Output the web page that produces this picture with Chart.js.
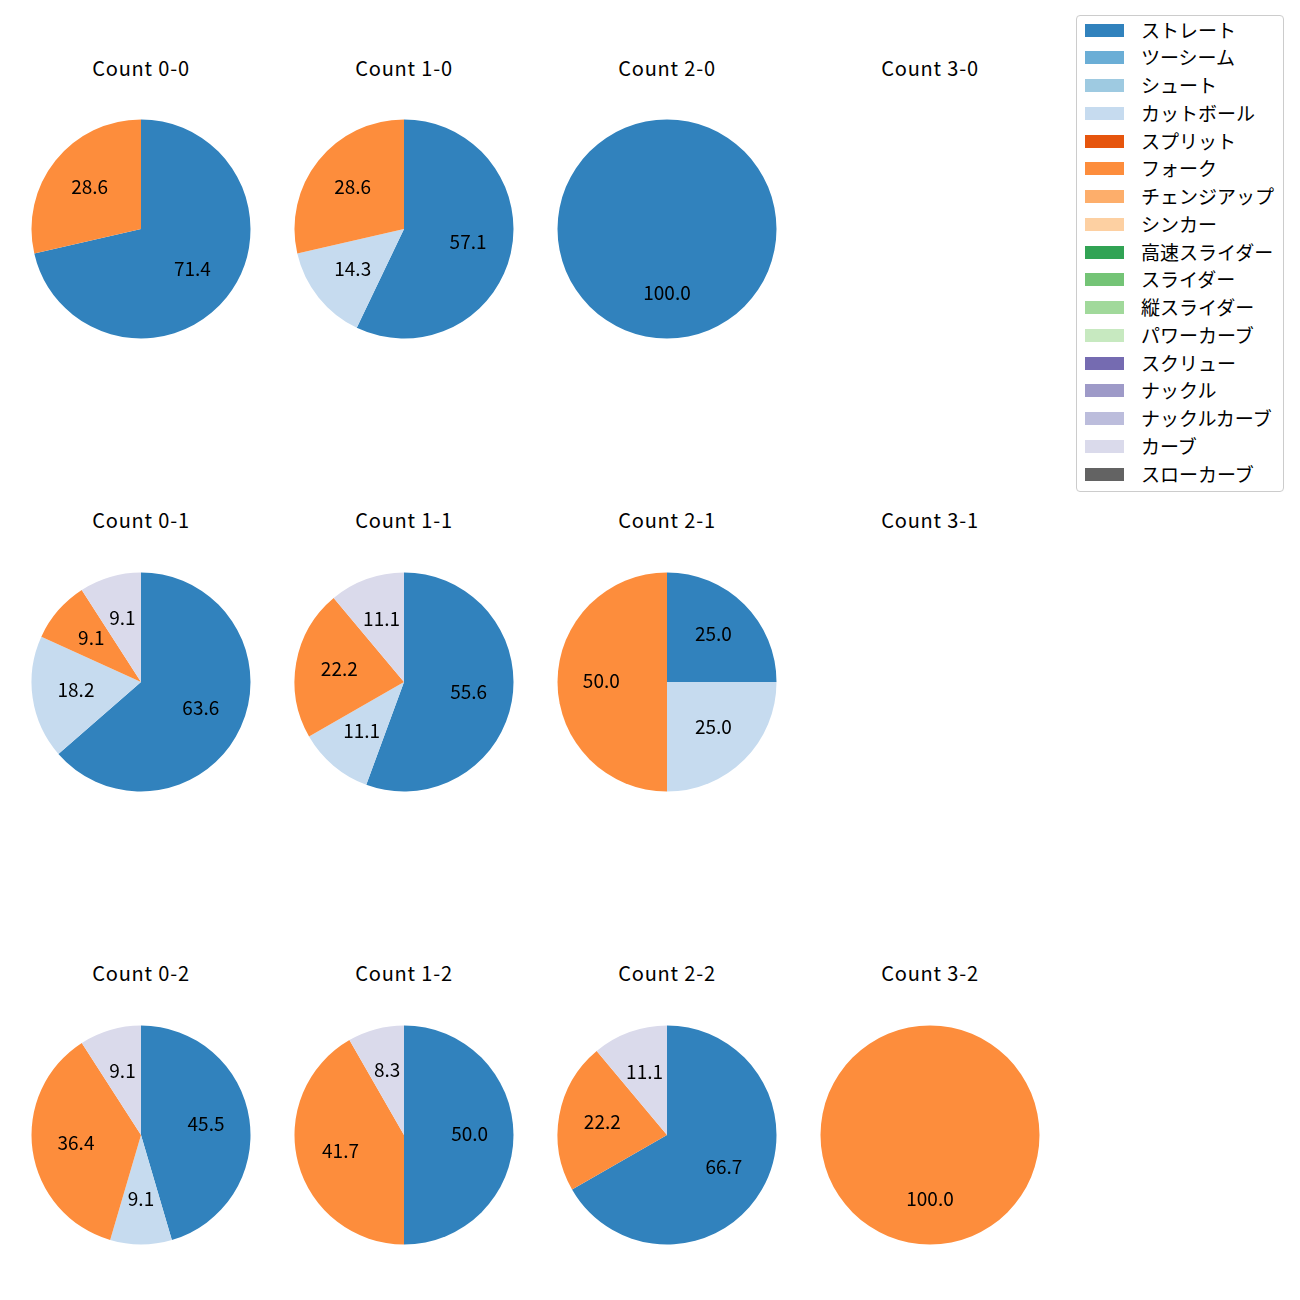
<!DOCTYPE html>
<html>
<head>
<meta charset="utf-8">
<script src="https://cdn.jsdelivr.net/npm/chart.js@4"></script>
<style>
  body { margin: 0; background: #fff; font-family: "Noto Sans CJK JP", "DejaVu Sans", sans-serif; }
  #wrap { position: relative; width: 1300px; height: 1300px; }
  .pie { position: absolute; width: 240px; height: 240px; }
  .ttl { position: absolute; width: 200px; text-align: center; font-size: 20px; line-height: 24px;
         letter-spacing: 0.8px; color: #000; }
  #legend { position: absolute; left: 1076px; top: 15px; width: 208px; height: 477px;
            border: 1px solid #ccc; border-radius: 4px; box-sizing: border-box; }
  .li { position: absolute; left: 8px; height: 22px; font-size: 19px; line-height: 22px; }
  .li span.sw { position: absolute; left: 0; top: 5px; width: 39px; height: 13px; }
  .li span.tx { position: absolute; left: 56px; top: 0; white-space: nowrap; }
</style>
</head>
<body>
<div id="wrap">
  <div id="legend"></div>
</div>
<script>
// pitch types and colours (tab20c style)
var pitchTypes = ["ストレート", "ツーシーム", "シュート", "カットボール", "スプリット", "フォーク",
  "チェンジアップ", "シンカー", "高速スライダー", "スライダー", "縦スライダー", "パワーカーブ",
  "スクリュー", "ナックル", "ナックルカーブ", "カーブ", "スローカーブ"];
var pitchColors = ["#3182bd", "#6baed6", "#9ecae1", "#c6dbef", "#e6550d", "#fd8d3c",
  "#fdae6b", "#fdd0a2", "#31a354", "#74c476", "#a1d99b", "#c7e9c0",
  "#756bb1", "#9e9ac8", "#bcbddc", "#dadaeb", "#636363"];

// counts, in grid order (rows: strikes 0..2, cols: balls 0..3)
var countNames = ["0-0", "1-0", "2-0", "3-0", "0-1", "1-1", "2-1", "3-1", "0-2", "1-2", "2-2", "3-2"];

// percentage shares per count (pitch type -> value), clockwise from the top
var pie00 = { "ストレート": 71.4, "フォーク": 28.6 };
var pie10 = { "ストレート": 57.1, "カットボール": 14.3, "フォーク": 28.6 };
var pie20 = { "ストレート": 100.0 };
var pie30 = {};
var pie01 = { "ストレート": 63.6, "カットボール": 18.2, "フォーク": 9.1, "カーブ": 9.1 };
var pie11 = { "ストレート": 55.6, "カットボール": 11.1, "フォーク": 22.2, "カーブ": 11.1 };
var pie21 = { "ストレート": 25.0, "カットボール": 25.0, "フォーク": 50.0 };
var pie31 = {};
var pie02 = { "ストレート": 45.5, "カットボール": 9.1, "フォーク": 36.4, "カーブ": 9.1 };
var pie12 = { "ストレート": 50.0, "フォーク": 41.7, "カーブ": 8.3 };
var pie22 = { "ストレート": 66.7, "フォーク": 22.2, "カーブ": 11.1 };
var pie32 = { "フォーク": 100.0 };

var allPies = [pie00, pie10, pie20, pie30, pie01, pie11, pie21, pie31, pie02, pie12, pie22, pie32];

var colX = [141, 404, 667, 930];
var rowY = [229, 682, 1135];
var titleY = [56, 508, 961];

// draw the value labels at 0.6 of the radius
var pctLabels = {
  id: "pctLabels",
  afterDatasetsDraw: function(chart) {
    var ctx = chart.ctx;
    var meta = chart.getDatasetMeta(0);
    var vals = chart.data.datasets[0].data;
    ctx.save();
    ctx.font = "19px 'Noto Sans CJK JP', 'DejaVu Sans', sans-serif";
    ctx.fillStyle = "#000";
    ctx.textAlign = "center";
    ctx.textBaseline = "middle";
    meta.data.forEach(function(arc, i) {
      var a = (arc.startAngle + arc.endAngle) / 2;
      var r = arc.outerRadius * 0.6;
      ctx.fillText(vals[i].toFixed(1), arc.x + Math.cos(a) * r, arc.y + Math.sin(a) * r - 1.5);
    });
    ctx.restore();
  }
};

var wrap = document.getElementById("wrap");

allPies.forEach(function(pie, k) {
  var col = k % 4, row = Math.floor(k / 4);
  var t = document.createElement("div");
  t.className = "ttl";
  t.style.left = (colX[col] - 100) + "px";
  t.style.top = titleY[row] + "px";
  t.textContent = "Count " + countNames[k];
  wrap.appendChild(t);

  var keys = Object.keys(pie);
  if (keys.length === 0) return;

  var box = document.createElement("div");
  box.className = "pie";
  box.style.left = (colX[col] - 120) + "px";
  box.style.top = (rowY[row] - 120) + "px";
  var cv = document.createElement("canvas");
  cv.width = 240; cv.height = 240;
  box.appendChild(cv);
  wrap.appendChild(box);

  new Chart(cv, {
    type: "pie",
    data: {
      labels: keys,
      datasets: [{
        data: keys.map(function(p) { return pie[p]; }),
        backgroundColor: keys.map(function(p) { return pitchColors[pitchTypes.indexOf(p)]; }),
        borderWidth: 0
      }]
    },
    options: {
      responsive: false,
      animation: false,
      layout: { padding: 10.5 },
      plugins: { legend: { display: false }, tooltip: { enabled: false } }
    },
    plugins: [pctLabels]
  });
});

// legend
var legend = document.getElementById("legend");
pitchTypes.forEach(function(p, i) {
  var li = document.createElement("div");
  li.className = "li";
  li.style.top = (2.5 + i * 27.75) + "px";
  li.innerHTML = '<span class="sw" style="background:' + pitchColors[i] + '"></span><span class="tx">' + p + '</span>';
  legend.appendChild(li);
});
</script>
</body>
</html>
